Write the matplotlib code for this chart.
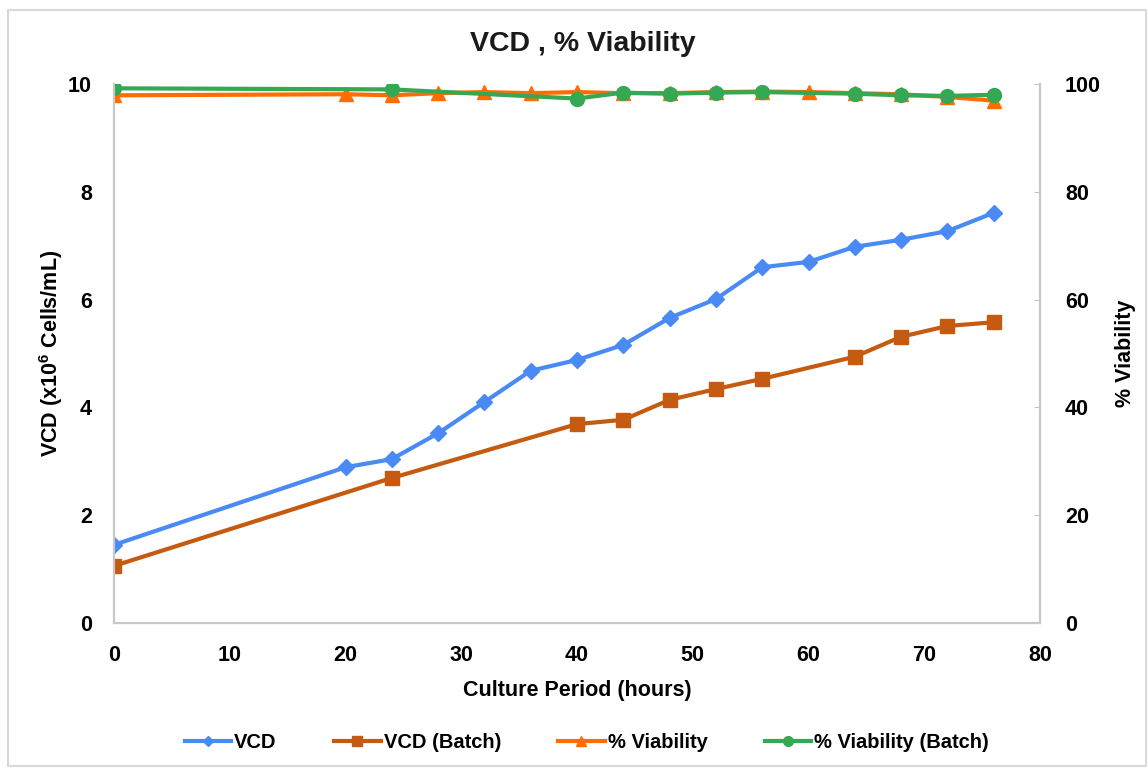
import matplotlib
matplotlib.use("Agg")
import matplotlib.pyplot as plt
from matplotlib.patches import Rectangle

plt.rcParams['font.family'] = ['Liberation Sans', 'DejaVu Sans']
plt.rcParams['mathtext.fontset'] = 'custom'
plt.rcParams['mathtext.rm'] = 'Liberation Sans'
plt.rcParams['mathtext.bf'] = 'Liberation Sans:bold'

# Culture time points (hours)
hours = [0, 20, 24, 28, 32, 36, 40, 44, 48, 52, 56, 60, 64, 68, 72, 76]
hoursBatch = [0, 24, 40, 44, 48, 52, 56, 64, 68, 72, 76]

# Viable cell density (x10^6 cells/mL)
vcd = [1.45, 2.89, 3.04, 3.52, 4.10, 4.68, 4.88, 5.16, 5.66, 6.01, 6.60, 6.70, 6.98, 7.11, 7.27, 7.61]
vcdBatch = [1.06, 2.69, 3.69, 3.77, 4.14, 4.34, 4.53, 4.94, 5.31, 5.51, 5.58]

# Viability (%)
viability = [97.9, 98.1, 97.9, 98.3, 98.5, 98.3, 98.5, 98.3, 98.3, 98.5, 98.6, 98.5, 98.3, 98.1, 97.6, 96.9]
viabilityBatch = [99.2, 99.0, 97.3, 98.4, 98.2, 98.4, 98.5, 98.2, 97.9, 97.8, 98.0]

cBlue = '#4a8af4'
cBrown = '#c55a11'
cOrange = '#ff6d01'
cGreen = '#34a853'
cAxis = '#c8c8c8'

fig = plt.figure(figsize=(11.48, 7.70), dpi=100)
fig.patches.append(Rectangle((8 / 1148, 4 / 770), 1138 / 1148, 756 / 770, transform=fig.transFigure,
                             fill=False, edgecolor='#d9d9d9', linewidth=1.5))

ax = fig.add_axes([114 / 1148, 1 - 623 / 770, 926 / 1148, 539 / 770])
ax2 = ax.twinx()

l1, = ax.plot(hours, vcd, '-D', color=cBlue, lw=3, ms=8, label='VCD')
l2, = ax.plot(hoursBatch, vcdBatch, '-s', color=cBrown, lw=3, ms=10, label='VCD (Batch)')
l3, = ax2.plot(hours, viability, '-^', color=cOrange, lw=3, ms=10, label='% Viability')
l4, = ax2.plot(hoursBatch, viabilityBatch, '-o', color=cGreen, lw=3, ms=10, label='% Viability (Batch)')

ax.set_xlim(0, 80)
ax.set_ylim(0, 10)
ax2.set_ylim(0, 100)
ax.set_xticks(range(0, 81, 10))
ax.set_yticks(range(0, 11, 2))
ax2.set_yticks(range(0, 101, 20))

for a in (ax, ax2):
    a.spines['top'].set_visible(False)
    for side in ('left', 'bottom', 'right'):
        a.spines[side].set_color(cAxis)
        a.spines[side].set_linewidth(1.5)
    a.set_facecolor('none')

ax.tick_params(axis='both', length=0, labelsize=15.5, pad=16)
ax.tick_params(axis='y', left=False, right=False)
ax2.tick_params(axis='y', left=False, right=True, direction='in', length=4, color=cAxis,
                labelsize=15.5, pad=18)
for lab in ax.get_xticklabels() + ax.get_yticklabels() + ax2.get_yticklabels():
    lab.set_fontweight('bold')

ax.set_xlabel('Culture Period (hours)', fontsize=15.5, fontweight='bold', labelpad=10)
ax.set_ylabel(r'VCD (x10$^{\mathbf{6}}$ Cells/mL)', fontsize=15.5, fontweight='bold', labelpad=2)
ax2.set_ylabel('% Viability', fontsize=15.5, fontweight='bold', labelpad=10)

fig.suptitle('VCD , % Viability', x=583 / 1148, y=1 - 44 / 770, va='center',
             fontsize=20.5, fontweight='bold', color='#1a1a1a')

fig.legend(handles=[l1, l2, l3, l4], loc='center', bbox_to_anchor=(587 / 1148, 1 - 743 / 770),
           ncol=4, frameon=False, handlelength=2.3, handletextpad=0.15, columnspacing=2.85,
           markerscale=0.7, prop={'weight': 'bold', 'size': 14.5})

fig.savefig('out.png', dpi=100)
